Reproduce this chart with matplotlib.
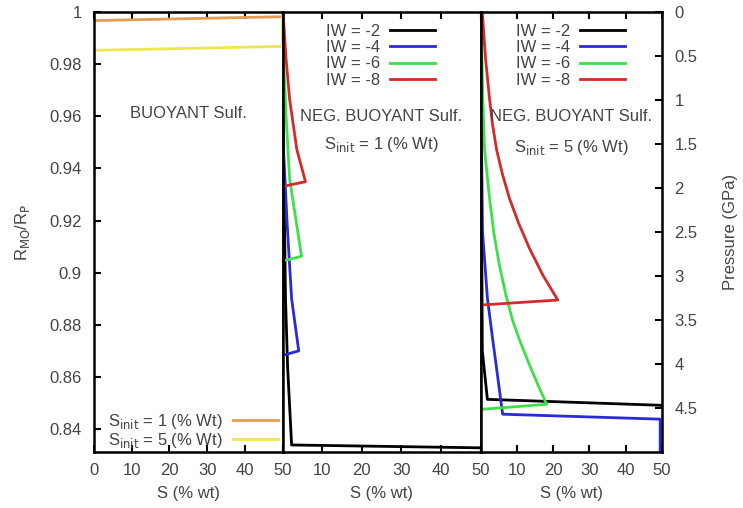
import numpy as np
import matplotlib
matplotlib.use("Agg")
import matplotlib.pyplot as plt

plt.rcParams['font.family'] = ['Liberation Sans', 'DejaVu Sans']

# panel 1 : buoyant sulfide, (S %wt, R_MO/R_P)
buoy_S1_x = [0, 50, 50]
buoy_S1_y = [0.9967, 0.9982, 1.0]
buoy_S5_x = [0, 50, 50]
buoy_S5_y = [0.9853, 0.9868, 1.0]

# panel 2 : negatively buoyant, S_init = 1 % wt
p2_iw2_x = [0, 0.25, 0.76, 1.3, 2.3, 50]
p2_iw2_y = [1.0, 0.947, 0.890, 0.8636, 0.8339, 0.8328]
p2_iw4_x = [0, 0.25, 1.2, 2.3, 4.1, 0.8]
p2_iw4_y = [1.0, 0.947, 0.918, 0.890, 0.870, 0.8686]
p2_iw6_x = [0, 0.25, 0.9, 1.8, 4.8, 1.0]
p2_iw6_y = [1.0, 0.982, 0.960, 0.936, 0.9063, 0.9048]
p2_iw8_x = [0, 0.25, 0.9, 1.8, 3.6, 5.8, 0.8]
p2_iw8_y = [1.0, 0.997, 0.982, 0.9665, 0.9474, 0.9349, 0.9333]

# panel 3 : negatively buoyant, S_init = 5 % wt
p3_iw2_x = [0, 0.5, 1.9, 50]
p3_iw2_y = [1.0, 0.870, 0.8514, 0.8491]
p3_iw4_x = [0, 0.3, 0.55, 1.9, 3.3, 4.4, 6.1, 49.5, 49.5]
p3_iw4_y = [1.0, 0.947, 0.9158, 0.8903, 0.875, 0.8636, 0.8457, 0.8438, 0.8312]
p3_iw6_x = [0, 0.3, 0.6, 1.1, 2.5, 3.7, 5.2, 6.9, 8.8, 10.8, 13.0, 15.5, 18.2, 0.55]
p3_iw6_y = [1.0, 0.9893, 0.968, 0.9474, 0.9284, 0.915, 0.9029, 0.892, 0.8819, 0.874, 0.8663, 0.858, 0.8495, 0.8476]
p3_iw8_x = [0, 0.55, 1.4, 2.5, 3.3, 4.4, 6.0, 8.0, 10.5, 13.5, 17.2, 21.3, 0.3]
p3_iw8_y = [1.0, 0.9989, 0.982, 0.9665, 0.957, 0.9474, 0.938, 0.9284, 0.919, 0.9093, 0.899, 0.8895, 0.8876]

iw_labels = ['IW = -2', 'IW = -4', 'IW = -6', 'IW = -8']
iw_colors = ['black', '#2a2ad8', '#3ee04a', '#d42a2a']

y_ticks = [0.84, 0.86, 0.88, 0.9, 0.92, 0.94, 0.96, 0.98, 1]
p_ticks = [0, 0.5, 1, 1.5, 2, 2.5, 3, 3.5, 4, 4.5]
x_ticks = [0, 10, 20, 30, 40, 50]

txt = '#444444'
fs = 12
lw = 2.0

W, H = 743, 508
fig = plt.figure(figsize=(W / 100, H / 100), dpi=100)
bot = (H - 452) / H
hgt = 440 / H
ax1 = fig.add_axes([94 / W, bot, 188.5 / W, hgt])
ax2 = fig.add_axes([282.5 / W, bot, 198 / W, hgt])
ax3 = fig.add_axes([480.5 / W, bot, 181.5 / W, hgt])

for i, ax in enumerate((ax1, ax2, ax3)):
    ax.set_xlim(0, 50)
    ax.set_ylim(0.8312, 1.0)
    ax.set_xticks(x_ticks)
    labs = [str(t) for t in x_ticks]
    if i > 0:
        labs[0] = ''  # the neighbour's "50" sits here
    ax.set_xticklabels(labs)
    ax.tick_params(axis='x', direction='in', top=True, length=5, width=1.5,
                   labelsize=fs, labelcolor=txt, pad=8)
    ax.tick_params(axis='y', direction='in', length=5, width=1.5,
                   labelsize=fs, labelcolor=txt)
    for s in ax.spines.values():
        s.set_linewidth(1.8)
    ax.set_xlabel('S (% wt)', fontsize=fs, color=txt, labelpad=6)

ax1.set_yticks(y_ticks)
ax1.set_yticklabels(['%g' % t for t in y_ticks])
ax1.tick_params(axis='y', pad=9)
for ax in (ax2, ax3):
    ax.set_yticks([])

leg_kw = dict(frameon=False, markerfirst=False, fontsize=fs, labelcolor=txt,
              labelspacing=0.08, handletextpad=0.6, borderaxespad=0.2)

# panel 1
ax1.plot(buoy_S1_x, buoy_S1_y, color='#e49c55', lw=lw, label='S$_{\\mathrm{init}}$ = 1 (% Wt)')
ax1.plot(buoy_S5_x, buoy_S5_y, color='#eee650', lw=lw, label='S$_{\\mathrm{init}}$ = 5 (% Wt)')
ax1.text(25, 0.961, 'BUOYANT Sulf.', ha='center', va='center', fontsize=fs, color=txt)
ax1.legend(loc='lower right', bbox_to_anchor=(1.03, -0.018), handlelength=2.7,
           **dict(leg_kw, labelspacing=0.0))

# panel 2
p2 = [(p2_iw2_x, p2_iw2_y), (p2_iw4_x, p2_iw4_y), (p2_iw6_x, p2_iw6_y), (p2_iw8_x, p2_iw8_y)]
for (xs, ys), c, lab in zip(p2, iw_colors, iw_labels):
    ax2.plot(xs, ys, color=c, lw=lw, label=lab)
ax2.text(25, 0.960, 'NEG. BUOYANT Sulf.', ha='center', va='center', fontsize=fs, color=txt)
ax2.text(25, 0.949, 'S$_{\\mathrm{init}}$ = 1 (% Wt)', ha='center', va='center', fontsize=fs, color=txt)
ax2.legend(loc='upper right', bbox_to_anchor=(0.82, 0.996), handlelength=2.7, **leg_kw)

# panel 3
p3 = [(p3_iw2_x, p3_iw2_y), (p3_iw4_x, p3_iw4_y), (p3_iw6_x, p3_iw6_y), (p3_iw8_x, p3_iw8_y)]
for (xs, ys), c, lab in zip(p3, iw_colors, iw_labels):
    ax3.plot(xs, ys, color=c, lw=lw, label=lab)
ax3.text(25, 0.960, 'NEG. BUOYANT Sulf.', ha='center', va='center', fontsize=fs, color=txt)
ax3.text(25, 0.948, 'S$_{\\mathrm{init}}$ = 5 (% Wt)', ha='center', va='center', fontsize=fs, color=txt)
ax3.legend(loc='upper right', bbox_to_anchor=(0.85, 0.996), handlelength=2.7, **leg_kw)

# pressure axis on the right
axp = ax3.twinx()
axp.set_ylim(5, 0)
axp.set_yticks(p_ticks)
axp.set_yticklabels(['%g' % t for t in p_ticks])
axp.tick_params(axis='y', direction='in', length=5, width=1.5, labelsize=fs,
                labelcolor=txt, pad=9)
axp.set_ylabel('Pressure (GPa)', fontsize=fs, color=txt, labelpad=18)

fig.text(22 / W, 1 - 232 / H, 'R$_{\\mathrm{MO}}$/R$_{\\mathrm{P}}$', rotation=90,
         ha='center', va='center', fontsize=fs, color=txt)

fig.savefig('out.png', dpi=100)
